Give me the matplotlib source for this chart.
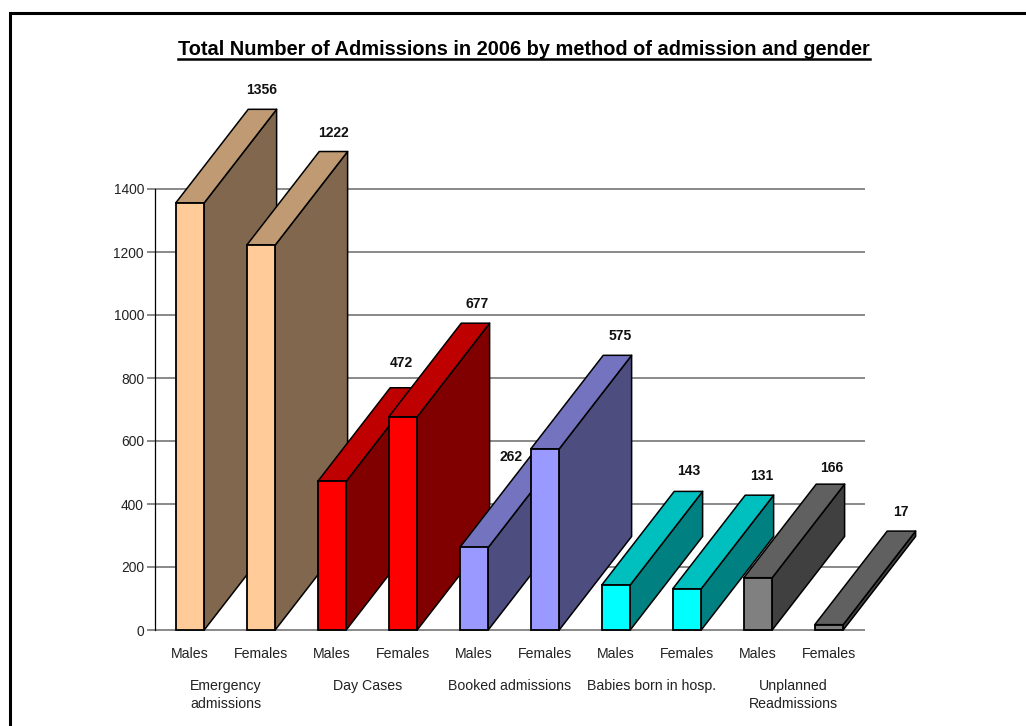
import matplotlib
matplotlib.use("Agg")
import matplotlib.pyplot as plt
from matplotlib.patches import Polygon

plt.rcParams['font.family'] = ['Liberation Sans', 'DejaVu Sans']

W, H = 1026, 726
X0, X1 = 154.5, 864.5   # plot area in pixels
Y0, Y1 = 630.0, 189.0

genders = ["Males", "Females"] * 5
values = [1356, 1222, 472, 677, 262, 575, 143, 131, 166, 17]
groups = ["Emergency\nadmissions", "Day Cases", "Booked admissions",
          "Babies born in hosp.", "Unplanned\nReadmissions"]
yticks = [0, 200, 400, 600, 800, 1000, 1200, 1400]

front_colors = ['#FFCC99', '#FF0000', '#9999FF', '#00FFFF', '#808080']
side_colors = ['#80674D', '#800000', '#4D4D80', '#008080', '#404040']
top_colors = ['#BF9A73', '#BF0000', '#7373BF', '#00BFBF', '#606060']

DX = 1.02   # depth offset in category units
DY = 297    # depth offset in value units
BAR_W = 0.40

# the labels were moved by hand in the original, pixels (right, up)
nudge = {1356: (-1, 0), 472: (-3, 6), 677: (2, 0), 262: (-35, -22), 575: (3, 0),
         143: (0, 1), 131: (2, 0), 166: (1, -3), 17: (-1, 0)}

fig = plt.figure(figsize=(W / 100, H / 100), dpi=100)
ax = fig.add_axes([X0 / W, 1 - Y0 / H, (X1 - X0) / W, (Y0 - Y1) / H])
ax.set_xlim(0.5, 10.5)
ax.set_ylim(0, 1400)

# outer frame: only top and left are visible
fig.add_artist(plt.Line2D([9.5 / W, 9.5 / W, 1.0], [0, 1 - 12.7 / H, 1 - 12.7 / H],
                          color='black', lw=2.2, solid_joinstyle='miter'))

for s in ['top', 'right', 'bottom']:
    ax.spines[s].set_visible(False)
ax.spines['left'].set_color('black')
ax.spines['left'].set_linewidth(0.9)
ax.set_yticks(yticks)
ax.tick_params(axis='y', length=5.8, width=1.3, color='#808080', labelsize=9.9,
               pad=1.8, labelcolor='#222222')
ax.set_xticks([])
ax.set_axisbelow(True)
ax.yaxis.grid(True, color='#808080', lw=1.3, zorder=0, clip_on=False,
              solid_capstyle='butt')

for i, v in enumerate(values):
    x = i + 1
    g = i // 2
    l, r = x - BAR_W / 2, x + BAR_W / 2
    z = 3 + i
    side = [(r, 0), (r + DX, DY), (r + DX, v + DY), (r, v)]
    top = [(l, v), (l + DX, v + DY), (r + DX, v + DY), (r, v)]
    ax.add_patch(Polygon(side, fc=side_colors[g], ec='black', lw=1.1, zorder=z,
                         clip_on=False, joinstyle='round'))
    ax.add_patch(Polygon(top, fc=top_colors[g], ec='black', lw=1.1, zorder=z,
                         clip_on=False, joinstyle='round'))
    ax.bar(x, v, BAR_W, color=front_colors[g], edgecolor='black', lw=1.3,
           zorder=z + 0.5, clip_on=False)
    nx, ny = nudge.get(v, (0, 0))
    ax.annotate(str(v), (x + DX, v + DY), xytext=(nx, 12 + ny), textcoords='offset pixels',
                ha='center', va='bottom', fontsize=10, fontweight='bold',
                color='#111111', annotation_clip=False, zorder=50)
    ax.annotate(genders[i], (x, 0), xytext=(0, -28), textcoords='offset pixels',
                ha='center', va='baseline', fontsize=10.2, color='#222222',
                annotation_clip=False)

for j, name in enumerate(groups):
    ax.annotate(name, (2 * j + 1.5, 0), xytext=(0, -49), textcoords='offset pixels',
                ha='center', va='top', fontsize=10.2, color='#222222',
                linespacing=1.4, annotation_clip=False)

fig.text(524 / W, 1 - 55 / H, "Total Number of Admissions in 2006 by method of admission and gender",
         ha='center', va='baseline', fontsize=14.4, fontweight='bold', color='black')
fig.add_artist(plt.Line2D([178 / W, 870 / W], [1 - 58.7 / H] * 2, color='black', lw=1.8))

fig.savefig("out.png", dpi=100)
